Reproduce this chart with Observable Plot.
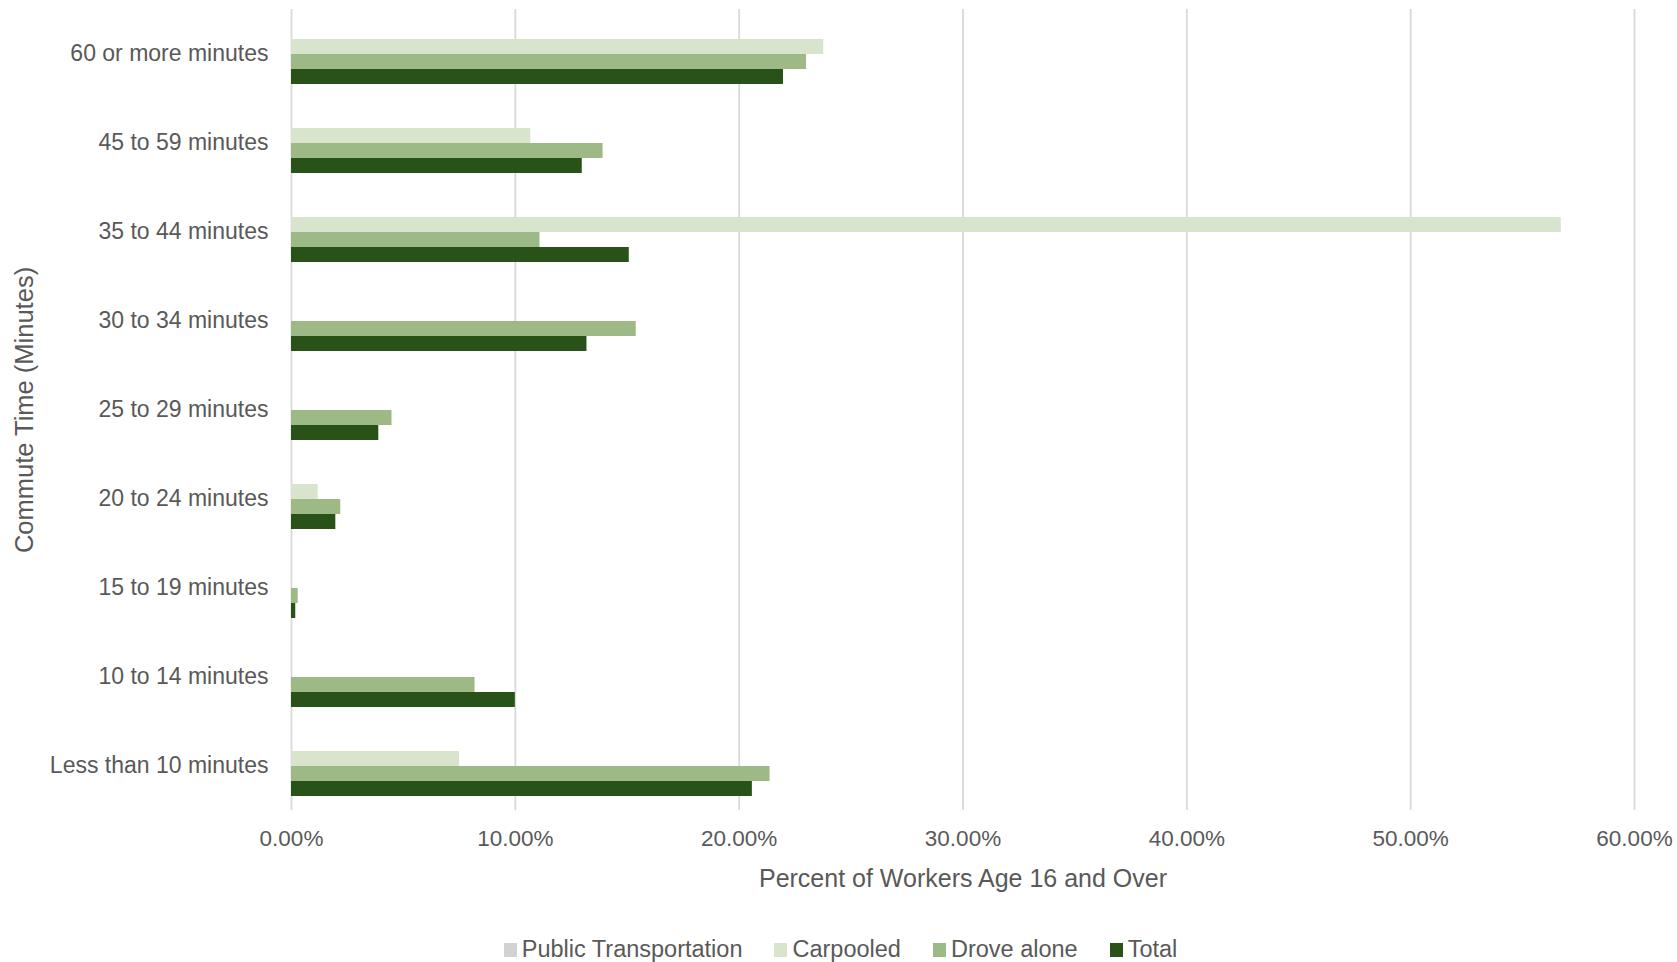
<!DOCTYPE html>
<html>
<head>
<meta charset="utf-8">
<script src="https://cdn.jsdelivr.net/npm/d3@7"></script>
<script src="https://cdn.jsdelivr.net/npm/@observablehq/plot@0.6"></script>
<style>
  html, body { margin: 0; padding: 0; background: #fff; }
  #chart { width: 1677px; }
  #legend-wrap { width: 1677px; padding-top: 33px; }
  .lg-swatches { justify-content: center !important; margin-left: 4px !important; }
  .lg-swatch { margin-right: 32px !important; }
  .lg-swatch:last-child { margin-right: 0 !important; }
  .lg-swatch > svg { margin-right: 5px !important; }
</style>
</head>
<body>
<div id="chart"></div>
<div id="legend-wrap"></div>
<script>
// Commute time bands, listed from the top of the chart down
const categories = [
  "60 or more minutes",
  "45 to 59 minutes",
  "35 to 44 minutes",
  "30 to 34 minutes",
  "25 to 29 minutes",
  "20 to 24 minutes",
  "15 to 19 minutes",
  "10 to 14 minutes",
  "Less than 10 minutes"
];

// Series names, in legend order (also top-to-bottom order inside each group)
const seriesNames = ["Public Transportation", "Carpooled", "Drove alone", "Total"];
const seriesColors = ["#d2d2d2", "#d8e4cc", "#9db985", "#285218"];

// Percent of workers age 16 and over, per commute band
const publicTransportation = [0, 0, 0, 0, 0, 0, 0, 0, 0];
const carpooled  = [23.78, 10.69, 56.73, 0, 0, 1.19, 0, 0, 7.51];
const droveAlone = [23.01, 13.92, 11.10, 15.40, 4.49, 2.20, 0.30, 8.20, 21.38];
const total      = [21.98, 12.99, 15.09, 13.20, 3.90, 1.98, 0.19, 10.00, 20.59];

// Percent axis ticks
const xTicks = [0, 10, 20, 30, 40, 50, 60];

const seriesValues = [publicTransportation, carpooled, droveAlone, total];
const rows = [];
categories.forEach((category, i) => {
  seriesNames.forEach((series, j) => {
    rows.push({category, series, value: seriesValues[j][i]});
  });
});

const font = "'Liberation Sans', Arial, sans-serif";
const textColor = "#595959";

const chart = Plot.plot({
  width: 1677,
  height: 900,
  marginTop: 9,
  marginBottom: 90,
  marginLeft: 291,
  marginRight: 43,
  style: {fontFamily: font, color: textColor, background: "#fff", overflow: "visible"},
  x: {domain: [0, 60]},
  y: {domain: seriesNames, paddingInner: 0, paddingOuter: 0.9085, axis: null},
  fy: {domain: categories, padding: 0},
  color: {domain: seriesNames, range: seriesColors},
  marks: [
    Plot.gridX(xTicks, {stroke: "#d9d9d9", strokeOpacity: 1, strokeWidth: 1.8}),
    Plot.barX(rows, {x: "value", y: "series", fy: "category", fill: "series"}),
    Plot.axisX({
      ticks: xTicks, tickSize: 0, tickPadding: 20,
      tickFormat: d => d.toFixed(2) + "%",
      fontSize: 22.5, label: null
    }),
    Plot.axisX({
      ticks: [], tickSize: 0,
      label: "Percent of Workers Age 16 and Over", labelArrow: "none",
      labelAnchor: "center", labelOffset: 76, fontSize: 25
    }),
    Plot.axisFy({
      anchor: "left", tickSize: 0, tickPadding: 23, fontSize: 23, label: null
    }),
    Plot.axisFy({
      anchor: "left", ticks: [], tickSize: 0,
      label: "Commute Time (Minutes)", labelArrow: "none",
      labelAnchor: "center", labelOffset: 277, fontSize: 25.5
    })
  ]
});
document.getElementById("chart").appendChild(chart);

const legend = Plot.legend({
  color: {type: "ordinal", domain: seriesNames, range: seriesColors},
  swatchWidth: 13,
  swatchHeight: 14,
  className: "lg",
  style: {fontSize: "23.5px", fontFamily: font, color: textColor}
});
document.getElementById("legend-wrap").appendChild(legend);
</script>
</body>
</html>
